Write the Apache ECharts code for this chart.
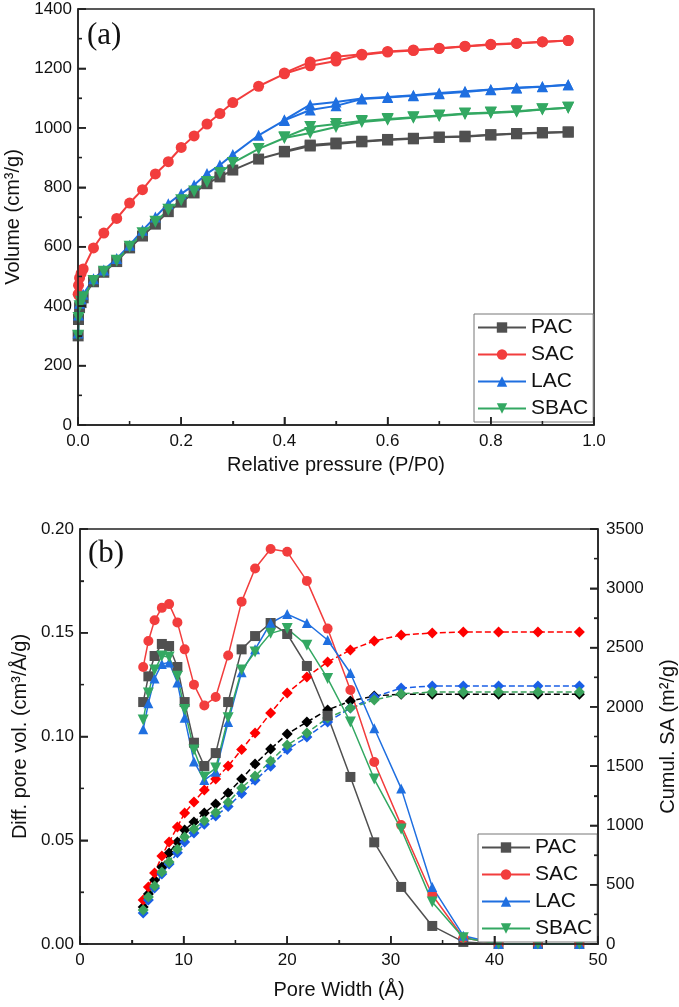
<!DOCTYPE html>
<html><head><meta charset="utf-8">
<script src="https://cdn.jsdelivr.net/npm/echarts@6/dist/echarts.min.js"></script>
<style>html,body{margin:0;padding:0;background:#fff}#c{width:679px;height:1007px}</style>
</head><body><div id="c"></div><script>
// ---------- Panel (a): N2 isotherms ----------
const pressureAds = [0.0003, 0.001, 0.003, 0.006, 0.01, 0.03, 0.05, 0.075, 0.1, 0.125, 0.15, 0.175, 0.2, 0.225, 0.25, 0.275, 0.3, 0.35, 0.4, 0.45, 0.5, 0.55, 0.6, 0.65, 0.7, 0.75, 0.8, 0.85, 0.9, 0.95];
const pacAds  = [300, 355, 395, 412, 428, 482, 514, 550, 596, 636, 676, 718, 750, 781, 812, 835, 858, 895, 919, 939, 946, 953, 959, 963, 968, 970, 976, 980, 983, 986];
const sacAds  = [440, 470, 495, 510, 525, 596, 646, 695, 747, 792, 845, 886, 934, 973, 1013, 1048, 1085, 1140, 1182, 1209, 1225, 1245, 1255, 1260, 1267, 1274, 1280, 1284, 1289, 1294];
const lacAds  = [310, 370, 410, 425, 440, 492, 522, 560, 605, 655, 700, 745, 778, 808, 846, 875, 910, 975, 1025, 1060, 1074, 1097, 1102, 1108, 1115, 1121, 1128, 1134, 1138, 1145];
const sbacAds = [300, 360, 400, 415, 430, 485, 516, 553, 600, 645, 684, 724, 756, 786, 818, 848, 882, 929, 966, 983, 1003, 1020, 1027, 1034, 1040, 1047, 1050, 1054, 1062, 1068];

const pressureDes = [0.95, 0.9, 0.85, 0.8, 0.75, 0.7, 0.65, 0.6, 0.55, 0.5, 0.45, 0.4];
const pacDes  = [986, 984, 981, 977, 972, 969, 965, 961, 955, 949, 942, 921];
const sacDes  = [1294, 1290, 1285, 1281, 1275, 1268, 1262, 1257, 1248, 1239, 1222, 1185];
const lacDes  = [1145, 1139, 1135, 1129, 1123, 1117, 1110, 1104, 1099, 1087, 1078, 1027];
const sbacDes = [1068, 1063, 1056, 1052, 1048, 1042, 1036, 1030, 1023, 1013, 1003, 968];

// ---------- Panel (b): pore size distribution ----------
const poreWidth = [6.1, 6.6, 7.2, 7.9, 8.6, 9.4, 10.1, 11.0, 12.0, 13.1, 14.3, 15.6, 16.9, 18.4, 20.0, 21.9, 23.9, 26.1, 28.4, 31.0, 34.0, 37.0, 40.4, 44.2, 48.2];
const pacPsd  = [0.1166, 0.129, 0.1388, 0.1446, 0.1436, 0.1335, 0.1166, 0.097, 0.0858, 0.092, 0.1166, 0.142, 0.1484, 0.1547, 0.1494, 0.134, 0.110, 0.0805, 0.049, 0.0275, 0.0087, 0.001, 0, 0, 0];
const sacPsd  = [0.1335, 0.146, 0.156, 0.162, 0.1638, 0.155, 0.142, 0.125, 0.115, 0.119, 0.139, 0.165, 0.181, 0.1904, 0.189, 0.175, 0.152, 0.1224, 0.0877, 0.0573, 0.0236, 0.003, 0, 0, 0];
const lacPsd  = [0.1035, 0.116, 0.128, 0.135, 0.1357, 0.126, 0.109, 0.088, 0.079, 0.083, 0.107, 0.131, 0.142, 0.1547, 0.159, 0.1547, 0.1465, 0.1306, 0.104, 0.075, 0.0275, 0.004, 0, 0, 0];
const sbacPsd = [0.108, 0.121, 0.132, 0.1388, 0.1383, 0.129, 0.113, 0.0935, 0.0805, 0.0848, 0.109, 0.132, 0.1407, 0.1497, 0.152, 0.144, 0.128, 0.107, 0.0795, 0.0554, 0.0202, 0.003, 0, 0, 0];

const pacSA  = [312, 422, 540, 650, 768, 860, 962, 1029, 1105, 1181, 1274, 1392, 1518, 1645, 1771, 1872, 1974, 2049, 2092, 2107, 2107, 2107, 2107, 2107, 2107];
const sacSA  = [371, 481, 599, 742, 860, 987, 1105, 1198, 1299, 1392, 1501, 1640, 1780, 1948, 2117, 2252, 2378, 2480, 2555, 2606, 2623, 2631, 2631, 2631, 2631];
const lacSA  = [261, 371, 472, 590, 675, 770, 860, 936, 1010, 1080, 1160, 1270, 1380, 1500, 1640, 1746, 1872, 1990, 2083, 2159, 2176, 2176, 2176, 2176, 2176];
const sbacSA = [287, 397, 489, 607, 692, 800, 902, 970, 1040, 1110, 1195, 1316, 1417, 1543, 1678, 1780, 1906, 1990, 2058, 2110, 2125, 2125, 2125, 2125, 2125];

const names = ['PAC', 'SAC', 'LAC', 'SBAC'];

// ---------- tick values ----------
const ticksAx = [0, 0.2, 0.4, 0.6, 0.8, 1.0];
const minorAx = [0.1, 0.3, 0.5, 0.7, 0.9];
const ticksAy = [0, 200, 400, 600, 800, 1000, 1200, 1400];
const minorAy = [100, 300, 500, 700, 900, 1100, 1300];
const ticksBx = [0, 10, 20, 30, 40, 50];
const minorBx = [5, 15, 25, 35, 45];
const ticksByL = [0, 0.05, 0.1, 0.15, 0.2];
const minorByL = [0.025, 0.075, 0.125, 0.175];
const ticksByR = [0, 500, 1000, 1500, 2000, 2500, 3000, 3500];
const minorByR = [250, 750, 1250, 1750, 2250, 2750, 3250];

// ---------- styling ----------
const FONT = 'Liberation Sans, Arial, sans-serif';
const colors = ['#505050', '#f23d3d', '#1f6fe0', '#33a862'];
const saColors = ['#000000', '#ff0000', '#1a5fe6', '#3aa35c'];
const symbols = ['rect', 'circle', 'triangle', 'path://M0,0 L10,0 L5,9 Z'];

const pair = (xs, ys) => xs.map((x, i) => [x, ys[i]]);
const adsSets = [pacAds, sacAds, lacAds, sbacAds];
const desSets = [pacDes, sacDes, lacDes, sbacDes];
const psdSets = [pacPsd, sacPsd, lacPsd, sbacPsd];
const saSets  = [pacSA, sacSA, lacSA, sbacSA];

const axisLine = () => ({ show: true, onZero: false, lineStyle: { color: '#222', width: 1.5 } });
const tickIn = () => ({ show: true, inside: true, length: 8, lineStyle: { color: '#222', width: 1.5 } });
const minorIn = () => ({ show: true, splitNumber: 2, length: 4, lineStyle: { color: '#222', width: 1.3 } });
const lbl = (extra) => Object.assign({ color: '#111', fontSize: 17, fontFamily: FONT }, extra);
const nameStyle = () => ({ color: '#111', fontSize: 20, fontFamily: FONT });

const series = [];
// Panel (a)
names.forEach((n, i) => {
  const common = {
    name: n, type: 'line', xAxisIndex: 0, yAxisIndex: 0,
    symbol: symbols[i], symbolSize: i === 3 ? 12 : 11,
    itemStyle: { color: colors[i] },
    lineStyle: { color: colors[i], width: 2 }
  };
  series.push(Object.assign({}, common, { data: pair(pressureAds, adsSets[i]) }));
  series.push(Object.assign({}, common, { data: pair(pressureDes, desSets[i]) }));
});
// Panel (b) cumulative SA (right axis)
names.forEach((n, i) => {
  series.push({
    name: n + ' SA', type: 'line', xAxisIndex: 1, yAxisIndex: 2,
    symbol: 'diamond', symbolSize: 11,
    itemStyle: { color: saColors[i] },
    lineStyle: { color: saColors[i], width: 1.5, type: [6, 3] },
    data: pair(poreWidth, saSets[i])
  });
});
// Panel (b) PSD (left axis)
names.forEach((n, i) => {
  series.push({
    name: n, type: 'line', xAxisIndex: 1, yAxisIndex: 1,
    symbol: symbols[i], symbolSize: i === 3 ? 11 : 10,
    itemStyle: { color: colors[i] },
    lineStyle: { color: colors[i], width: 1.5 },
    data: pair(poreWidth, psdSets[i])
  });
});

// Inward tick marks placed through the axes' own scales (fallback)
function tickSeries(xi, yi, data, size, offset) {
  return {
    name: 'ticks', type: 'scatter', xAxisIndex: xi, yAxisIndex: yi,
    symbol: 'rect', symbolSize: size, symbolOffset: offset,
    itemStyle: { color: '#222', opacity: 1 }, data, clip: false, silent: true, z: 20
  };
}
series.push(tickSeries(0, 0, ticksAx.map(v => [v, 0]), [1.5, 8], [0, -4]));
series.push(tickSeries(0, 0, minorAx.map(v => [v, 0]), [1.3, 4], [0, -2]));
series.push(tickSeries(0, 0, ticksAy.map(v => [0, v]), [8, 1.5], [4, 0]));
series.push(tickSeries(0, 0, minorAy.map(v => [0, v]), [4, 1.3], [2, 0]));
series.push(tickSeries(1, 1, ticksBx.map(v => [v, 0]), [1.5, 8], [0, -4]));
series.push(tickSeries(1, 1, minorBx.map(v => [v, 0]), [1.3, 4], [0, -2]));
series.push(tickSeries(1, 1, ticksByL.map(v => [0, v]), [8, 1.5], [4, 0]));
series.push(tickSeries(1, 1, minorByL.map(v => [0, v]), [4, 1.3], [2, 0]));
series.push(tickSeries(1, 2, ticksByR.map(v => [50, v]), [8, 1.5], [-4, 0]));
series.push(tickSeries(1, 2, minorByR.map(v => [50, v]), [4, 1.3], [-2, 0]));

const legendBase = {
  orient: 'vertical', data: names,
  backgroundColor: '#fff', borderColor: '#777', borderWidth: 1,
  padding: [3, 5, 3, 3], itemGap: 6, itemWidth: 48, itemHeight: 13,
  textStyle: { fontSize: 21, fontFamily: FONT, color: '#111', lineHeight: 21 },
  selectedMode: false
};

const option = {
  animation: false,
  grid: [
    { left: 78, top: 9, width: 516, height: 416, show: true, borderColor: '#222', borderWidth: 1.5, backgroundColor: 'transparent', outerBoundsMode: 'none', z: 0 },
    { left: 80, top: 529, width: 518, height: 415, show: true, borderColor: '#222', borderWidth: 1.5, backgroundColor: 'transparent', outerBoundsMode: 'none', z: 0 }
  ],
  xAxis: [
    { type: 'value', gridIndex: 0, min: 0, max: 1, interval: 0.2, z: 5,
      name: 'Relative pressure (P/P0)', nameLocation: 'middle', nameGap: 30, nameTextStyle: nameStyle(),
      axisLine: axisLine(), axisTick: tickIn(), minorTick: minorIn(), splitLine: { show: false },
      axisLabel: lbl({ margin: 8, formatter: v => v.toFixed(1), showMaxLabel: true }) },
    { type: 'value', gridIndex: 1, min: 0, max: 50, interval: 10, z: 5,
      name: 'Pore Width (Å)', nameLocation: 'middle', nameGap: 36, nameTextStyle: nameStyle(),
      axisLine: axisLine(), axisTick: tickIn(), minorTick: minorIn(), splitLine: { show: false },
      axisLabel: lbl({ margin: 8, formatter: v => String(v), showMaxLabel: true }) }
  ],
  yAxis: [
    { type: 'value', gridIndex: 0, min: 0, max: 1400, interval: 200, z: 5,
      name: 'Volume (cm³/g)', nameLocation: 'middle', nameGap: 51, nameTextStyle: nameStyle(),
      axisLine: axisLine(), axisTick: tickIn(), minorTick: minorIn(), splitLine: { show: false },
      axisLabel: lbl({ margin: 6, formatter: v => String(v) }) },
    { type: 'value', gridIndex: 1, min: 0, max: 0.2, interval: 0.05, position: 'left', z: 5,
      name: 'Diff. pore vol. (cm³/Å/g)', nameLocation: 'middle', nameGap: 47, nameTextStyle: nameStyle(),
      axisLine: axisLine(), axisTick: tickIn(), minorTick: minorIn(), splitLine: { show: false },
      axisLabel: lbl({ margin: 6, formatter: v => v.toFixed(2) }) },
    { type: 'value', gridIndex: 1, min: 0, max: 3500, interval: 500, position: 'right', z: 5,
      name: 'Cumul. SA (m²/g)', nameLocation: 'middle', nameGap: 60, nameRotate: 90, nameTextStyle: nameStyle(),
      axisLine: axisLine(), axisTick: tickIn(), minorTick: minorIn(), splitLine: { show: false },
      axisLabel: lbl({ margin: 8, formatter: v => String(v) }) }
  ],
  legend: [
    Object.assign({}, legendBase, { left: 474, top: 314 }),
    Object.assign({}, legendBase, { left: 478, top: 834 })
  ],
  graphic: [
    { type: 'text', left: 87, top: 20, style: { text: '(a)', font: '31px "Liberation Serif", "Times New Roman", serif', fill: '#111' } },
    { type: 'text', left: 88, top: 538, style: { text: '(b)', font: '31px "Liberation Serif", "Times New Roman", serif', fill: '#111' } }
  ],
  series
};

const chart = echarts.init(document.getElementById('c'));
chart.setOption(option);
</script></body></html>
